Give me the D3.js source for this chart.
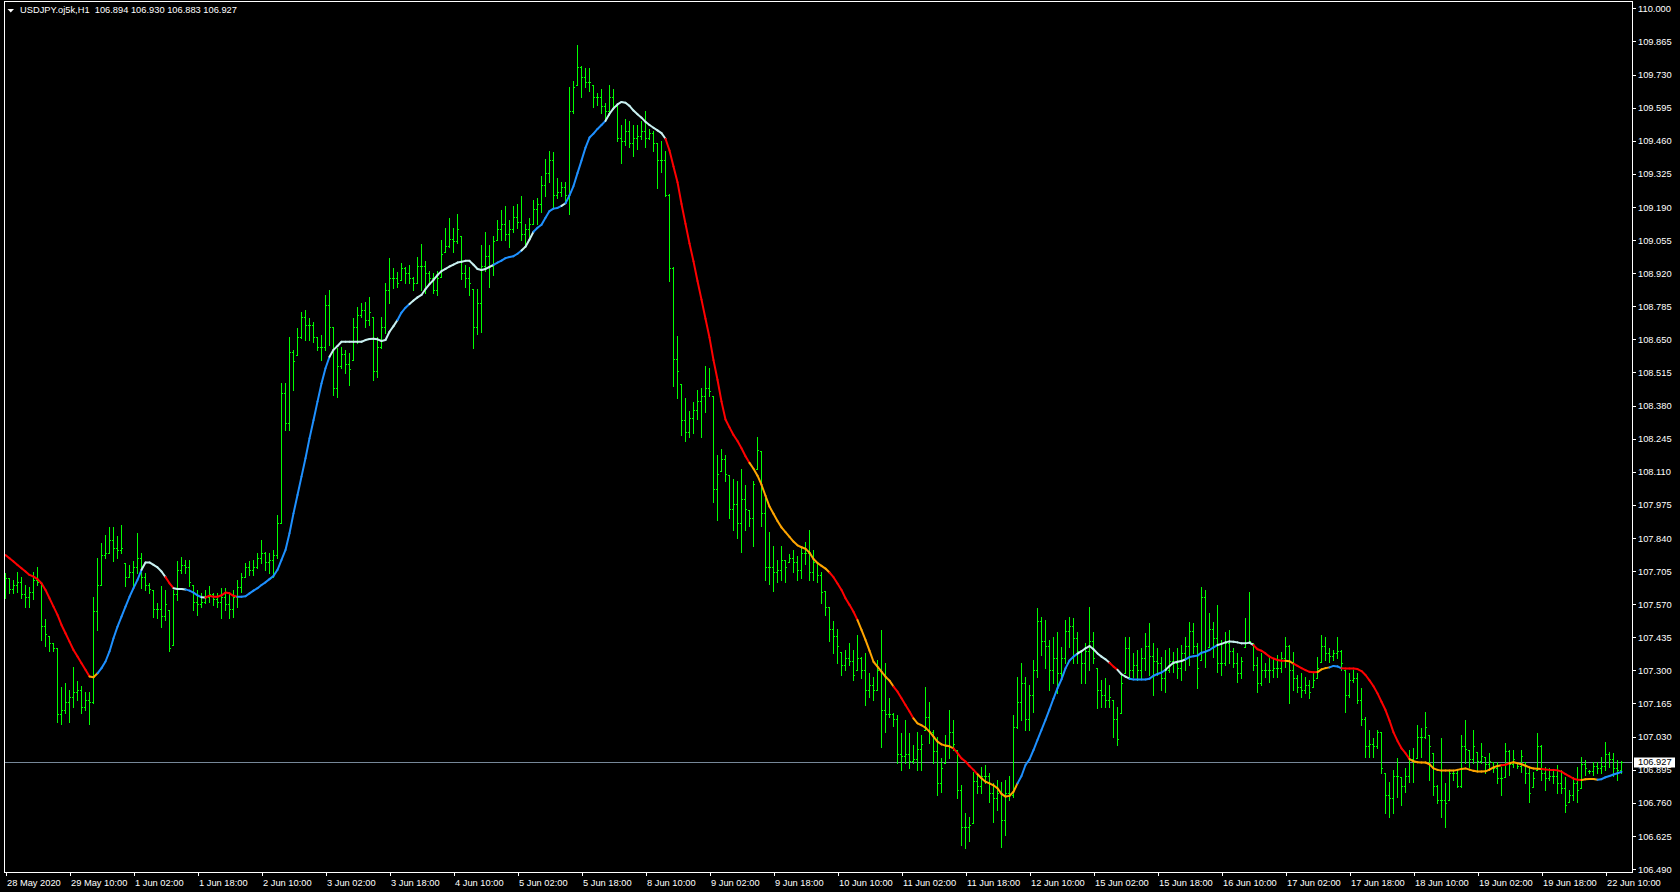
<!DOCTYPE html>
<html><head><meta charset="utf-8">
<script src="https://cdn.jsdelivr.net/npm/d3@7/dist/d3.min.js"></script>
<style>
html,body{margin:0;padding:0;background:#000;overflow:hidden}
svg{display:block}
text{font-family:"Liberation Sans",Arial,sans-serif;font-size:9.3px}
</style></head><body>
<svg id="c" width="1680" height="892"></svg>
<script>
// ---------------- DATA ----------------
const symbolLabel = "USDJPY.oj5k,H1";
const lastOHLC = ["106.894", "106.930", "106.883", "106.927"];
const bidPrice = 106.927;

// time-axis labels, one every 16 hourly bars starting at bar 0
const timeTickBars = [0,16,32,48,64,80,96,112,128,144,160,176,192,208,224,240,256,272,288,304,320,336,352,368,384,400];
const timeTickLabels = ["28 May 2020","29 May 10:00","1 Jun 02:00","1 Jun 18:00","2 Jun 10:00","3 Jun 02:00","3 Jun 18:00","4 Jun 10:00","5 Jun 02:00","5 Jun 18:00","8 Jun 10:00","9 Jun 02:00","9 Jun 18:00","10 Jun 10:00","11 Jun 02:00","11 Jun 18:00","12 Jun 10:00","15 Jun 02:00","15 Jun 18:00","16 Jun 10:00","17 Jun 02:00","17 Jun 18:00","18 Jun 10:00","19 Jun 02:00","19 Jun 18:00","22 Jun 10:00"];

const priceTickLabels = ["110.000","109.865","109.730","109.595","109.460","109.325","109.190","109.055","108.920","108.785","108.650","108.515","108.380","108.245","108.110","107.975","107.840","107.705","107.570","107.435","107.300","107.165","107.030","106.895","106.760","106.625","106.490"];

const opens = [
107.64,107.675,107.63,107.65,107.66,107.61,107.60,107.62,107.67,107.655,
107.48,107.44,107.41,107.39,107.12,107.14,107.17,107.19,107.21,107.22,
107.15,107.18,107.17,107.54,107.65,107.77,107.78,107.83,107.80,107.79,
107.737,107.682,107.70,107.72,107.76,107.68,107.65,107.628,107.55,107.55,
107.52,107.546,107.404,107.61,107.71,107.73,107.72,107.648,107.58,107.57,
107.58,107.60,107.61,107.59,107.58,107.60,107.57,107.55,107.60,107.64,
107.682,107.72,107.71,107.72,107.76,107.78,107.74,107.75,107.77,107.90,
108.43,108.31,108.60,108.586,108.66,108.74,108.71,108.71,108.66,108.62,
108.62,108.79,108.70,108.45,108.54,108.59,108.55,108.566,108.70,108.75,
108.77,108.73,108.742,108.52,108.62,108.70,108.85,108.90,108.90,108.892,
108.94,108.92,108.90,108.88,108.95,108.95,108.92,108.90,108.85,108.904,
109.008,109.03,109.06,109.05,109.073,108.92,108.90,108.855,108.70,108.80,
108.95,108.99,108.95,109.057,109.10,109.12,109.08,109.10,109.15,109.13,
109.08,109.10,109.121,109.18,109.20,109.28,109.33,109.38,109.24,109.25,
109.27,109.24,109.58,109.686,109.76,109.72,109.70,109.686,109.64,109.64,
109.60,109.58,109.64,109.60,109.47,109.46,109.50,109.45,109.47,109.48,
109.50,109.47,109.49,109.45,109.38,109.38,109.24,108.94,108.57,108.468,
108.32,108.27,108.33,108.36,108.40,108.42,108.45,108.42,108.04,108.114,
108.16,108.097,107.96,107.98,107.90,108.00,107.952,107.92,108.122,108.194,
107.94,107.72,107.72,107.70,107.71,107.75,107.743,107.76,107.74,107.71,
107.78,107.78,107.70,107.74,107.69,107.622,107.557,107.47,107.44,107.376,
107.32,107.35,107.34,107.302,107.35,107.30,107.22,107.24,107.22,107.30,
107.14,107.12,107.12,107.10,106.96,106.95,106.96,106.93,106.94,106.98,
107.057,107.11,107.05,106.97,106.84,106.921,106.99,107.05,106.975,106.81,
106.66,106.66,106.676,106.85,106.83,106.87,106.87,106.80,106.78,106.80,
106.69,106.80,106.79,107.07,107.17,107.25,107.10,107.20,107.30,107.50,
107.42,107.40,107.30,107.35,107.29,107.35,107.46,107.48,107.43,107.38,
107.33,107.38,107.42,107.308,107.22,107.20,107.18,107.179,107.10,107.125,
107.288,107.39,107.30,107.32,107.30,107.35,107.40,107.36,107.34,107.33,
107.27,107.30,107.34,107.33,107.31,107.37,107.40,107.46,107.40,107.342,
107.60,107.397,107.47,107.43,107.33,107.33,107.41,107.38,107.33,107.29,
107.397,107.41,107.41,107.32,107.25,107.30,107.30,107.30,107.31,107.31,
107.35,107.40,107.30,107.27,107.23,107.22,107.24,107.233,107.267,107.335,
107.40,107.37,107.36,107.37,107.38,107.301,107.20,107.26,107.27,107.18,
107.10,106.99,107.00,106.99,107.05,106.88,106.79,106.78,106.87,106.866,
106.83,106.87,106.94,106.941,107.03,107.03,107.036,106.962,106.83,106.77,
106.77,106.771,106.88,106.88,106.83,106.99,106.975,106.94,106.968,106.93,
106.948,106.92,106.928,106.90,106.86,106.866,106.97,106.92,106.928,106.91,
106.928,106.88,106.826,106.894,106.99,106.88,106.86,106.87,106.87,106.84,
106.82,106.765,106.79,106.84,106.819,106.92,106.89,106.89,106.91,106.90,
106.91,106.96,106.94,106.90,106.894];

const highs = [
107.696,107.675,107.67,107.70,107.68,107.65,107.64,107.70,107.72,107.655,
107.51,107.44,107.41,107.39,107.23,107.25,107.22,107.315,107.255,107.235,
107.21,107.21,107.60,107.757,107.82,107.852,107.886,107.886,107.846,107.893,
107.737,107.73,107.744,107.859,107.778,107.696,107.655,107.628,107.574,107.642,
107.628,107.546,107.628,107.744,107.764,107.75,107.75,107.648,107.628,107.614,
107.628,107.642,107.614,107.614,107.635,107.635,107.614,107.628,107.669,107.696,
107.737,107.744,107.75,107.778,107.832,107.784,107.778,107.791,107.934,108.47,
108.47,108.661,108.607,108.695,108.763,108.77,108.736,108.722,108.661,108.668,
108.831,108.851,108.702,108.613,108.62,108.607,108.593,108.736,108.783,108.797,
108.804,108.824,108.742,108.661,108.742,108.878,108.98,108.939,108.926,108.96,
108.946,108.953,108.906,108.987,109.04,108.968,108.928,108.92,108.928,109.057,
109.105,109.146,109.105,109.162,109.073,108.952,108.944,108.855,108.855,109.033,
109.089,109.033,109.073,109.137,109.178,109.194,109.137,109.194,109.202,109.234,
109.121,109.146,109.218,109.226,109.315,109.387,109.42,109.412,109.307,109.291,
109.291,109.678,109.702,109.85,109.766,109.758,109.758,109.686,109.654,109.67,
109.613,109.686,109.67,109.605,109.524,109.549,109.541,109.524,109.524,109.541,
109.581,109.508,109.50,109.452,109.46,109.42,109.242,108.944,108.662,108.468,
108.412,108.356,108.396,108.444,108.452,108.541,108.533,108.42,108.178,108.202,
108.178,108.097,108.081,108.073,108.122,108.057,107.952,108.073,108.251,108.194,
108.001,107.864,107.807,107.751,107.807,107.751,107.775,107.791,107.767,107.799,
107.823,107.872,107.791,107.743,107.702,107.622,107.557,107.50,107.47,107.376,
107.383,107.41,107.383,107.444,107.356,107.37,107.288,107.274,107.342,107.465,
107.329,107.186,107.125,107.118,107.043,107.098,107.043,106.996,107.05,107.036,
107.234,107.172,107.057,107.03,106.941,107.036,107.138,107.098,106.975,106.833,
106.717,106.703,106.887,106.88,106.907,106.914,106.88,106.839,106.853,106.846,
106.853,106.867,107.118,107.274,107.329,107.274,107.24,107.342,107.553,107.519,
107.505,107.424,107.437,107.458,107.397,107.505,107.519,107.512,107.458,107.383,
107.41,107.56,107.458,107.308,107.261,107.268,107.24,107.179,107.152,107.288,
107.437,107.437,107.37,107.383,107.39,107.451,107.492,107.41,107.39,107.356,
107.383,107.39,107.376,107.39,107.404,107.437,107.499,107.492,107.41,107.641,
107.628,107.533,107.499,107.567,107.424,107.458,107.465,107.39,107.37,107.356,
107.512,107.621,107.41,107.356,107.369,107.328,107.349,107.349,107.362,107.376,
107.437,107.403,107.376,107.281,107.288,107.274,107.26,107.288,107.356,107.444,
107.437,107.39,107.383,107.437,107.383,107.301,107.288,107.301,107.288,107.227,
107.111,107.057,107.023,107.057,107.05,106.88,106.846,106.894,106.941,106.866,
106.90,106.975,106.982,107.077,107.064,107.131,107.036,106.962,106.833,107.023,
106.839,106.894,106.894,106.894,107.036,107.097,106.975,107.057,106.968,107.002,
106.948,106.962,106.928,106.928,106.907,107.002,106.975,106.975,106.928,106.975,
106.928,106.907,106.887,107.043,106.996,106.907,106.90,106.894,106.914,106.894,
106.866,106.812,106.866,106.907,106.948,106.934,106.894,106.928,106.928,106.948,
107.009,106.968,106.962,106.934,106.930];

const lows = [
107.594,107.614,107.615,107.62,107.594,107.56,107.56,107.59,107.65,107.424,
107.40,107.38,107.38,107.09,107.08,107.125,107.09,107.15,107.18,107.125,
107.14,107.08,107.166,107.465,107.65,107.757,107.78,107.744,107.757,107.78,
107.642,107.682,107.642,107.696,107.635,107.628,107.614,107.519,107.513,107.478,
107.506,107.377,107.404,107.587,107.696,107.696,107.642,107.546,107.526,107.56,
107.574,107.58,107.567,107.56,107.513,107.546,107.513,107.519,107.56,107.62,
107.682,107.69,107.69,107.716,107.737,107.71,107.696,107.682,107.757,107.90,
108.28,108.28,108.443,108.586,108.654,108.647,108.647,108.64,108.607,108.566,
108.607,108.627,108.423,108.416,108.532,108.511,108.464,108.566,108.634,108.742,
108.702,108.708,108.484,108.498,108.613,108.674,108.797,108.858,108.865,108.892,
108.878,108.878,108.851,108.878,108.85,108.839,108.88,108.839,108.831,108.904,
109.008,109.025,109.008,109.041,108.896,108.863,108.831,108.613,108.67,108.678,
108.928,108.863,108.912,109.057,109.057,109.057,109.025,109.089,109.105,109.057,
109.033,109.057,109.121,109.121,109.17,109.234,109.291,109.186,109.226,109.234,
109.21,109.162,109.573,109.686,109.637,109.678,109.662,109.597,109.605,109.573,
109.541,109.565,109.589,109.46,109.371,109.444,109.436,109.396,109.428,109.468,
109.436,109.468,109.42,109.266,109.331,109.234,108.888,108.46,108.412,108.259,
108.235,108.251,108.267,108.323,108.251,108.355,108.42,107.985,107.912,108.114,
108.073,107.92,107.872,107.84,107.783,107.872,107.888,107.807,108.122,107.888,
107.67,107.654,107.622,107.662,107.67,107.662,107.743,107.702,107.67,107.678,
107.735,107.67,107.67,107.662,107.574,107.525,107.42,107.37,107.33,107.281,
107.302,107.322,107.261,107.302,107.268,107.159,107.193,107.179,107.22,106.989,
107.05,107.111,107.071,106.921,106.894,106.921,106.901,106.921,106.894,106.894,
107.057,107.002,106.921,106.792,106.805,106.921,106.941,106.975,106.778,106.588,
106.574,106.602,106.676,106.799,106.799,106.84,106.765,106.683,106.731,106.581,
106.629,106.771,106.785,107.064,107.098,107.057,107.057,107.132,107.274,107.363,
107.308,107.22,107.247,107.206,107.274,107.329,107.397,107.329,107.329,107.247,
107.247,107.302,107.329,107.145,107.152,107.152,107.152,107.03,106.996,107.125,
107.288,107.268,107.274,107.261,107.268,107.302,107.281,107.20,107.281,107.22,
107.213,107.295,107.295,107.268,107.261,107.302,107.322,107.37,107.227,107.342,
107.315,107.397,107.356,107.295,107.281,107.322,107.329,107.315,107.254,107.268,
107.397,107.41,107.302,107.213,107.24,107.274,107.254,107.274,107.274,107.294,
107.315,107.165,107.22,107.213,107.193,107.206,107.186,107.233,107.267,107.335,
107.342,107.335,107.342,107.349,107.301,107.131,107.193,107.254,107.165,107.077,
106.948,106.948,106.948,106.982,106.88,106.717,106.703,106.717,106.785,106.751,
106.805,106.846,106.846,106.941,106.948,107.023,106.853,106.792,106.758,106.703,
106.663,106.771,106.853,106.826,106.826,106.921,106.907,106.921,106.894,106.921,
106.88,106.894,106.887,106.839,106.792,106.866,106.873,106.907,106.90,106.887,
106.839,106.765,106.826,106.894,106.853,106.812,106.853,106.839,106.798,106.798,
106.724,106.765,106.771,106.765,106.819,106.873,106.88,106.873,106.88,106.88,
106.894,106.907,106.867,106.853,106.883];

const closes = [
107.676,107.63,107.65,107.66,107.61,107.60,107.62,107.67,107.66,107.48,
107.45,107.41,107.39,107.12,107.14,107.17,107.19,107.21,107.22,107.15,
107.18,107.17,107.54,107.65,107.77,107.78,107.83,107.80,107.79,107.80,
107.68,107.70,107.72,107.76,107.68,107.65,107.63,107.55,107.55,107.52,
107.57,107.39,107.61,107.71,107.73,107.72,107.66,107.58,107.57,107.58,
107.60,107.61,107.59,107.58,107.60,107.57,107.55,107.60,107.64,107.68,
107.72,107.71,107.72,107.76,107.78,107.74,107.75,107.77,107.90,108.43,
108.31,108.60,108.56,108.66,108.74,108.71,108.71,108.66,108.62,108.62,
108.79,108.70,108.45,108.54,108.59,108.55,108.53,108.70,108.75,108.77,
108.73,108.76,108.52,108.62,108.70,108.85,108.90,108.90,108.88,108.94,
108.92,108.90,108.88,108.95,108.95,108.92,108.90,108.85,108.90,109.00,
109.03,109.06,109.05,109.10,108.92,108.90,108.88,108.70,108.80,108.95,
108.99,108.95,109.05,109.10,109.12,109.08,109.10,109.15,109.13,109.08,
109.10,109.12,109.18,109.20,109.28,109.33,109.38,109.24,109.25,109.27,
109.24,109.58,109.68,109.76,109.72,109.70,109.70,109.64,109.64,109.60,
109.58,109.64,109.60,109.47,109.46,109.50,109.45,109.47,109.48,109.50,
109.47,109.49,109.45,109.38,109.38,109.24,108.94,108.57,108.52,108.32,
108.27,108.33,108.36,108.40,108.42,108.45,108.44,108.04,108.10,108.16,
108.10,107.96,107.98,107.90,108.00,107.96,107.92,108.06,108.20,107.94,
107.72,107.72,107.70,107.71,107.75,107.72,107.76,107.74,107.71,107.78,
107.78,107.70,107.74,107.69,107.62,107.56,107.47,107.44,107.40,107.32,
107.35,107.34,107.28,107.35,107.30,107.22,107.24,107.22,107.30,107.14,
107.12,107.12,107.10,106.96,106.95,106.96,106.93,106.94,106.98,107.00,
107.11,107.05,106.97,106.84,106.90,106.99,107.05,107.00,106.81,106.66,
106.66,106.67,106.85,106.83,106.87,106.87,106.80,106.78,106.80,106.69,
106.80,106.79,107.07,107.17,107.25,107.10,107.20,107.30,107.50,107.42,
107.40,107.30,107.35,107.29,107.35,107.46,107.48,107.43,107.38,107.33,
107.38,107.42,107.35,107.22,107.20,107.18,107.19,107.10,107.02,107.25,
107.39,107.30,107.32,107.30,107.35,107.40,107.36,107.34,107.33,107.27,
107.30,107.34,107.33,107.31,107.37,107.40,107.46,107.40,107.31,107.60,
107.38,107.47,107.43,107.33,107.33,107.41,107.38,107.33,107.29,107.34,
107.41,107.42,107.32,107.25,107.30,107.30,107.30,107.31,107.31,107.35,
107.40,107.30,107.27,107.23,107.22,107.24,107.21,107.26,107.31,107.40,
107.37,107.36,107.37,107.38,107.33,107.20,107.26,107.27,107.18,107.10,
106.99,107.00,106.99,107.05,106.90,106.79,106.78,106.87,106.87,106.83,
106.87,106.94,106.93,107.03,107.03,107.07,106.99,106.83,106.77,106.77,
106.76,106.88,106.88,106.83,106.99,106.98,106.94,106.99,106.93,106.95,
106.92,106.93,106.90,106.86,106.86,106.97,106.92,106.94,106.91,106.95,
106.88,106.80,106.86,106.99,106.88,106.86,106.87,106.87,106.84,106.82,
106.75,106.79,106.84,106.81,106.92,106.90,106.89,106.91,106.90,106.91,
106.96,106.94,106.90,106.894,106.927];

// smoothed trend line, one value per bar
const trendValues = [
107.770,107.757,107.744,107.730,107.716,107.703,107.689,107.682,107.672,107.655,
107.628,107.594,107.560,107.526,107.485,107.451,107.417,107.383,107.356,107.329,
107.302,107.275,107.272,107.288,107.309,107.336,107.377,107.431,107.478,107.519,
107.560,107.600,107.635,107.669,107.710,107.740,107.740,107.730,107.720,107.703,
107.680,107.655,107.635,107.632,107.632,107.630,107.625,107.617,107.606,107.598,
107.597,107.604,107.600,107.600,107.606,107.617,107.614,107.604,107.600,107.600,
107.602,107.614,107.625,107.635,107.648,107.659,107.672,107.685,107.710,107.750,
107.791,107.859,107.940,108.015,108.090,108.165,108.246,108.320,108.396,108.470,
108.532,108.579,108.607,108.623,108.640,108.640,108.640,108.640,108.640,108.640,
108.647,108.651,108.652,108.650,108.643,108.647,108.681,108.704,108.729,108.759,
108.779,108.794,108.808,108.821,108.831,108.855,108.875,108.892,108.912,108.928,
108.937,108.947,108.955,108.963,108.966,108.970,108.970,108.954,108.937,108.933,
108.937,108.945,108.954,108.963,108.971,108.981,108.986,108.989,108.999,109.012,
109.028,109.057,109.089,109.105,109.117,109.146,109.173,109.183,109.186,109.194,
109.205,109.237,109.275,109.328,109.379,109.432,109.473,109.489,109.508,109.524,
109.541,109.570,109.592,109.608,109.618,109.615,109.602,109.583,109.568,109.554,
109.537,109.524,109.513,109.502,109.491,109.468,109.420,109.355,109.291,109.202,
109.121,109.041,108.968,108.888,108.812,108.734,108.657,108.565,108.485,108.396,
108.323,108.291,108.260,108.235,108.206,108.173,108.146,108.122,108.094,108.057,
108.012,107.968,107.939,107.909,107.883,107.864,107.844,107.825,107.810,107.802,
107.796,107.780,107.754,107.738,107.726,107.715,107.699,107.680,107.654,107.628,
107.594,107.567,107.539,107.505,107.465,107.424,107.380,107.335,107.315,107.295,
107.274,107.258,107.234,107.213,107.186,107.159,107.132,107.104,107.084,107.076,
107.066,107.050,107.030,107.009,106.998,106.993,106.990,106.982,106.962,106.941,
106.928,106.910,106.894,106.876,106.860,106.846,106.839,106.831,106.819,106.796,
106.785,106.788,106.805,106.839,106.869,106.914,106.937,106.975,107.016,107.057,
107.098,107.141,107.185,107.227,107.263,107.308,107.340,107.356,107.368,107.378,
107.390,107.399,107.386,107.369,107.356,107.345,107.331,107.315,107.302,107.284,
107.274,107.266,107.263,107.263,107.263,107.263,107.266,107.278,107.285,107.291,
107.302,107.318,107.331,107.335,107.338,107.345,107.354,107.357,107.360,107.372,
107.376,107.383,107.394,107.403,107.408,107.414,107.418,107.417,107.414,107.410,
107.410,107.413,107.403,107.386,107.380,107.369,107.356,107.348,107.342,107.339,
107.339,107.337,107.327,107.318,107.309,107.301,107.294,107.292,107.293,107.304,
107.309,107.312,107.318,107.316,107.308,107.307,107.307,107.307,107.305,107.297,
107.281,107.259,107.235,107.206,107.172,107.138,107.095,107.047,107.012,106.982,
106.962,106.938,106.929,106.925,106.924,106.924,106.917,106.900,106.894,106.891,
106.891,106.891,106.891,106.894,106.898,106.900,106.895,106.890,106.887,106.887,
106.888,106.895,106.904,106.910,106.913,106.915,106.921,106.925,106.921,106.917,
106.911,106.904,106.900,106.899,106.898,106.896,106.894,106.894,106.892,106.887,
106.877,106.868,106.858,106.854,106.853,106.856,106.857,106.857,106.854,106.856,
106.864,106.869,106.875,106.880,106.886];

// colour state of the trend line: [first bar, state]
const trendStateRuns = [[0,"dn"],[22,"dnWeak"],[24,"up"],[35,"upWeak"],[41,"dn"],[43,"upWeak"],[46,"up"],[50,"upWeak"],[51,"dn"],[59,"up"],[82,"upWeak"],[99,"up"],[102,"upWeak"],[123,"up"],[130,"upWeak"],[133,"up"],[140,"upWeak"],[141,"up"],[151,"upWeak"],[166,"dn"],[187,"dnWeak"],[207,"dn"],[214,"dnWeak"],[223,"dn"],[228,"dnWeak"],[238,"dn"],[244,"dnWeak"],[254,"up"],[269,"upWeak"],[277,"dn"],[279,"upWeak"],[282,"up"],[291,"upWeak"],[296,"up"],[304,"upWeak"],[313,"dn"],[321,"dnWeak"],[323,"dn"],[329,"dnWeak"],[332,"up"],[335,"dn"],[352,"dnWeak"],[375,"dn"],[377,"dnWeak"],[385,"dn"],[395,"dnWeak"],[399,"up"]];

// ---------------- STYLE ----------------
const statePalette = {dn:"#ff0000", dnWeak:"#ffa500", up:"#1e90ff", upWeak:"#c8f0f0"};
const barColor = "#00ff00";
const fg = "#ffffff";

// ---------------- DRAW ----------------
const svg = d3.select("#c");
svg.append("rect").attr("width",1680).attr("height",892).attr("fill","#000");
const n = closes.length;
const plotL = 4, plotR = 1632, plotT = 1, plotB = 872;

const x = d3.scaleLinear().domain([0, n - 1]).range([5, 5 + 4 * (n - 1)]);
const y = d3.scaleLinear().domain([106.4775, 110.0339]).range([872, 0]);

// state per bar
const stateOf = new Array(n);
trendStateRuns.forEach((r, k) => {
  const end = k + 1 < trendStateRuns.length ? trendStateRuns[k + 1][0] : n;
  for (let i = r[0]; i < end; i++) stateOf[i] = r[1];
});

const defs = svg.append("defs");
defs.append("clipPath").attr("id","plotclip").append("rect")
  .attr("x", plotL + 1).attr("y", plotT + 1).attr("width", plotR - plotL - 1).attr("height", plotB - plotT - 1);

const plot = svg.append("g").attr("clip-path","url(#plotclip)").attr("shape-rendering","crispEdges");

// bid line
const bidY = Math.round(y(bidPrice)) + 0.5;
plot.append("line").attr("x1", plotL).attr("x2", plotR).attr("y1", bidY).attr("y2", bidY)
  .attr("stroke", "#778899").attr("stroke-width", 1);

const bars = d3.range(n).map(i => ({i, o: opens[i], h: highs[i], l: lows[i], c: closes[i]}));
const bg = plot.append("g").attr("fill", barColor);
bg.selectAll("rect.hl").data(bars).join("rect").attr("class","hl")
  .attr("x", d => x(d.i)).attr("y", d => Math.round(y(d.h)))
  .attr("width", 1).attr("height", d => Math.max(1, Math.round(y(d.l)) - Math.round(y(d.h)) + 1));
bg.selectAll("rect.op").data(bars).join("rect").attr("class","op")
  .attr("x", d => x(d.i) - 1).attr("y", d => Math.round(y(d.o)))
  .attr("width", 1).attr("height", 1);
bg.selectAll("rect.cl").data(bars).join("rect").attr("class","cl")
  .attr("x", d => x(d.i) + 1).attr("y", d => Math.round(y(d.c)))
  .attr("width", 1).attr("height", 1);

// trend line, segment-coloured
const segs = d3.range(1, n).map(i => ({a: i - 1, b: i, s: stateOf[i]}));
svg.append("g").attr("clip-path","url(#plotclip)").selectAll("line").data(segs).join("line")
  .attr("x1", d => x(d.a) + 0.5).attr("y1", d => y(trendValues[d.a]))
  .attr("x2", d => x(d.b) + 0.5).attr("y2", d => y(trendValues[d.b]))
  .attr("stroke", d => statePalette[d.s]).attr("stroke-width", 2).attr("stroke-linecap", "round");

// frame
const fr = svg.append("g").attr("stroke", fg).attr("stroke-width", 1).attr("shape-rendering","crispEdges");
fr.append("line").attr("x1", plotL + 0.5).attr("x2", plotL + 0.5).attr("y1", plotT).attr("y2", plotB + 1);
fr.append("line").attr("x1", plotL).attr("x2", plotR + 1).attr("y1", plotB + 0.5).attr("y2", plotB + 0.5);
fr.append("line").attr("x1", plotR + 0.5).attr("x2", plotR + 0.5).attr("y1", plotT).attr("y2", plotB + 1);
fr.append("line").attr("x1", plotL).attr("x2", plotR + 1).attr("y1", plotT + 0.5).attr("y2", plotT + 0.5);

// price axis
const priceVals = priceTickLabels.map(Number);
const yAxis = d3.axisRight(y).tickValues(priceVals).tickFormat(d3.format(".3f"))
  .tickSize(4).tickSizeOuter(0).tickPadding(2);
const ya = svg.append("g").attr("transform", `translate(${plotR},0)`).call(yAxis);
ya.select(".domain").remove();
ya.selectAll("line").attr("stroke", fg).attr("shape-rendering","crispEdges");
ya.selectAll("text").attr("fill", fg).attr("font-family", null).attr("font-size", null).attr("dy","0.34em");

// time axis
const xAxis = d3.axisBottom(x).tickValues(timeTickBars).tickFormat((d, k) => timeTickLabels[k])
  .tickSize(4).tickSizeOuter(0);
const xa = svg.append("g").attr("transform", `translate(0.5,${plotB})`).call(xAxis);
xa.select(".domain").remove();
xa.selectAll("line").attr("stroke", fg).attr("shape-rendering","crispEdges");
xa.selectAll("text").attr("fill", fg).attr("font-family", null).attr("font-size", null)
  .attr("text-anchor", "start").attr("x", 1).attr("y", 7).attr("dy", "0.71em");

// current price marker
const bidRectY = Math.round(y(bidPrice)) - 4.5;
svg.append("rect").attr("x", plotR + 2).attr("y", bidRectY).attr("width", 41).attr("height", 10)
  .attr("fill", "#ffffff");
svg.append("text").attr("x", plotR + 6).attr("y", y(bidPrice)).attr("dy", "0.36em")
  .attr("fill", "#000").text(d3.format(".3f")(bidPrice));

// header
svg.append("path").attr("d", "M7.5,9 L14,9 L10.75,12.5 Z").attr("fill", fg);
svg.append("text").attr("x", 20).attr("y", 13).attr("fill", fg).style("white-space", "pre")
  .text(symbolLabel + "  " + lastOHLC.join(" "));
</script>
</body></html>
